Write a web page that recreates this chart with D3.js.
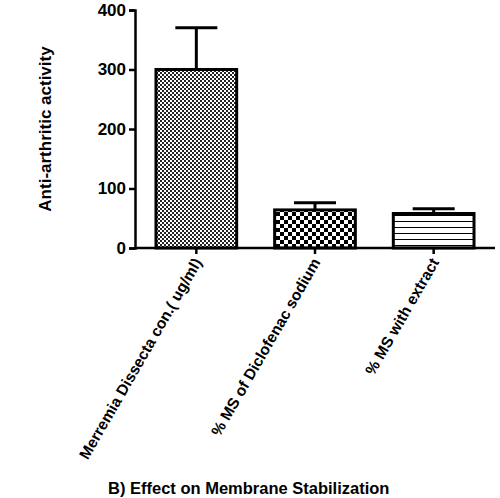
<!DOCTYPE html>
<html><head><meta charset="utf-8">
<script src="https://cdn.jsdelivr.net/npm/d3@7"></script>
<style>body{margin:0;background:#fff}text{font-family:Arial,"Liberation Sans",sans-serif;font-weight:bold}</style>
</head><body><div id="chart"></div>
<script>
const categories = ["Merremia Dissecta con.( ug/ml)", "% MS of Diclofenac sodium", "% MS with extract"];
const means = [300, 64, 58];
const errors = [70, 12, 8];
const yTicks = [0, 100, 200, 300, 400];
const title = "B)  Effect on Membrane Stabilization";
const patterns = ["fine", "check", "lines"];

const width = 500, height = 498;
const svg = d3.select('#chart').append('svg').attr('width', width).attr('height', height);

const defs = svg.append('defs');
const fine = defs.append('pattern').attr('id', 'fine').attr('patternUnits', 'userSpaceOnUse').attr('width', 4).attr('height', 4);
fine.append('rect').attr('width', 4).attr('height', 4).attr('fill', '#fff');
fine.append('rect').attr('width', 2).attr('height', 2).attr('fill', '#222');
fine.append('rect').attr('x', 2).attr('y', 2).attr('width', 2).attr('height', 2).attr('fill', '#222');
const check = defs.append('pattern').attr('id', 'check').attr('patternUnits', 'userSpaceOnUse').attr('width', 8).attr('height', 8);
check.append('rect').attr('width', 8).attr('height', 8).attr('fill', '#fff');
check.append('rect').attr('width', 4).attr('height', 4).attr('fill', '#000');
check.append('rect').attr('x', 4).attr('y', 4).attr('width', 4).attr('height', 4).attr('fill', '#000');
const lines = defs.append('pattern').attr('id', 'lines').attr('patternUnits', 'userSpaceOnUse').attr('width', 8).attr('height', 6);
lines.append('rect').attr('width', 8).attr('height', 6).attr('fill', '#fff');
lines.append('rect').attr('y', 5).attr('width', 8).attr('height', 1).attr('fill', '#000');

const x0 = 135, x1 = 495, yTop = 10, yBot = 248;
const x = d3.scaleBand().domain(categories).range([x0 + 2, x1 - 2]).paddingInner(0.32).paddingOuter(0.16);
const y = d3.scaleLinear().domain([0, 400]).range([yBot, yTop]);

const g = svg.append('g');
categories.forEach((c, i) => {
  const cx = x(c) + x.bandwidth() / 2;
  g.append('line').attr('x1', cx).attr('x2', cx).attr('y1', y(means[i])).attr('y2', y(means[i] + errors[i])).attr('stroke', '#000').attr('stroke-width', 3);
  g.append('line').attr('x1', cx - 21).attr('x2', cx + 21).attr('y1', y(means[i] + errors[i])).attr('y2', y(means[i] + errors[i])).attr('stroke', '#000').attr('stroke-width', 3);
  g.append('rect').attr('x', x(c)).attr('y', y(means[i])).attr('width', x.bandwidth()).attr('height', y(0) - y(means[i]))
    .attr('fill', `url(#${patterns[i]})`).attr('stroke', '#000').attr('stroke-width', 3);
});

const ya = svg.append('g').attr('transform', `translate(${x0},0)`)
  .call(d3.axisLeft(y).tickValues(yTicks).tickSize(6).tickPadding(3));
ya.select('.domain').attr('stroke-width', 2.5);
ya.selectAll('.tick line').attr('stroke-width', 2.5);
ya.selectAll('text').style('font-size', '17px').attr('fill', '#000');

const xa = svg.append('g').attr('transform', `translate(0,${yBot})`)
  .call(d3.axisBottom(x).tickSize(6).tickSizeOuter(0).tickFormat(''));
xa.select('.domain').attr('d', `M${x0},0H${x1}`).attr('stroke-width', 2.5);
xa.selectAll('.tick line').attr('stroke-width', 2.5);
xa.selectAll('.tick').append('text').attr('fill', '#000').style('font-size', '15.5px')
  .attr('text-anchor', 'end').attr('transform', 'translate(6,14) rotate(-60)')
  .text(d => d);

svg.append('text').attr('transform', 'translate(51,129) rotate(-90)').attr('text-anchor', 'middle')
  .style('font-size', '17px').text('Anti-arthritic activity');
svg.append('text').attr('x', 108).attr('y', 494).style('font-size', '16.5px').text(title);
</script></body></html>
